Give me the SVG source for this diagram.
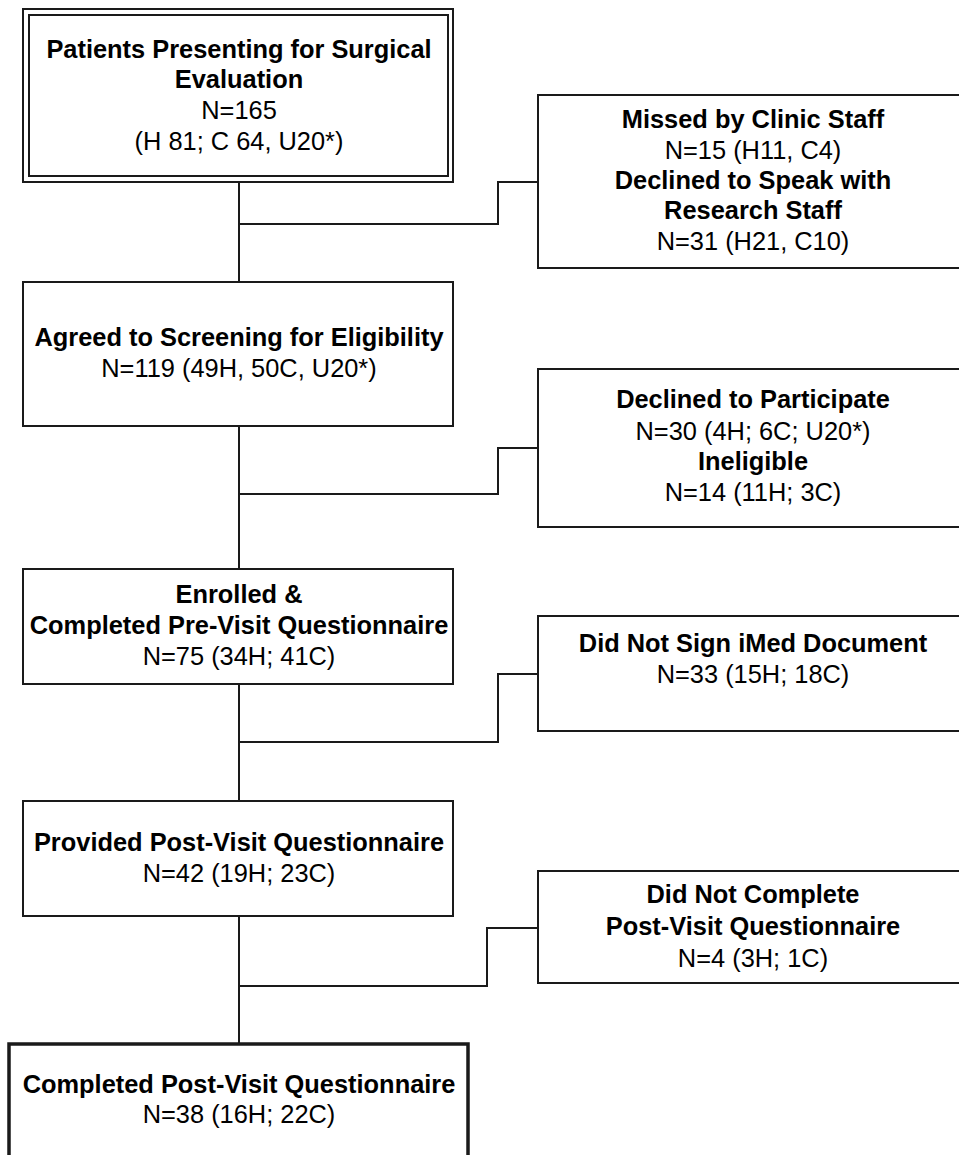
<svg xmlns="http://www.w3.org/2000/svg" width="959" height="1155" viewBox="0 0 959 1155">
<style>
.box{fill:#fff;stroke:#1a1a1a;stroke-width:2}
.thick{fill:#fff;stroke:#1a1a1a;stroke-width:3.5}
.con{fill:none;stroke:#1a1a1a;stroke-width:2}
text{font-family:"Liberation Sans",Arial,sans-serif;font-size:25.4px;fill:#000;text-anchor:middle}
.b{font-weight:bold}
</style>
<rect width="959" height="1155" fill="#fff"/>
<g id="connectors">
<path class="con" d="M239,182 V282 M239,224 H498 V182 H538"/>
<path class="con" d="M239,426 V569 M239,494 H498 V448 H538"/>
<path class="con" d="M239,684 V801 M239,742 H498 V674 H538"/>
<path class="con" d="M239,916 V1044 M239,986 H487 V928 H538"/>
</g>
<g id="n1">
<rect class="box" x="23" y="9" width="430" height="173"/>
<rect class="box" x="29" y="15" width="419" height="161"/>
<text x="239" y="58" class="b">Patients Presenting for Surgical</text>
<text x="239" y="88" class="b">Evaluation</text>
<text x="239" y="119">N=165</text>
<text x="239" y="150">(H 81; C 64, U20*)</text>
</g>
<g id="n2">
<rect class="box" x="538" y="95" width="440" height="173"/>
<text x="753" y="128" class="b">Missed by Clinic Staff</text>
<text x="753" y="159">N=15 (H11, C4)</text>
<text x="753" y="189" class="b">Declined to Speak with</text>
<text x="753" y="219" class="b">Research Staff</text>
<text x="753" y="250">N=31 (H21, C10)</text>
</g>
<g id="n3">
<rect class="box" x="23" y="282" width="430" height="144"/>
<text x="239" y="346" class="b">Agreed to Screening for Eligibility</text>
<text x="239" y="377">N=119 (49H, 50C, U20*)</text>
</g>
<g id="n4">
<rect class="box" x="538" y="369" width="440" height="158"/>
<text x="753" y="408" class="b">Declined to Participate</text>
<text x="753" y="440">N=30 (4H; 6C; U20*)</text>
<text x="753" y="470" class="b">Ineligible</text>
<text x="753" y="501">N=14 (11H; 3C)</text>
</g>
<g id="n5">
<rect class="box" x="23" y="569" width="430" height="115"/>
<text x="239" y="603" class="b">Enrolled &amp;</text>
<text x="239" y="634" class="b">Completed Pre-Visit Questionnaire</text>
<text x="239" y="665">N=75 (34H; 41C)</text>
</g>
<g id="n6">
<rect class="box" x="538" y="616" width="440" height="115"/>
<text x="753" y="652" class="b">Did Not Sign iMed Document</text>
<text x="753" y="683">N=33 (15H; 18C)</text>
</g>
<g id="n7">
<rect class="box" x="23" y="801" width="430" height="115"/>
<text x="239" y="851" class="b">Provided Post-Visit Questionnaire</text>
<text x="239" y="882">N=42 (19H; 23C)</text>
</g>
<g id="n8">
<rect class="box" x="538" y="871" width="440" height="112"/>
<text x="753" y="903" class="b">Did Not Complete</text>
<text x="753" y="935" class="b">Post-Visit Questionnaire</text>
<text x="753" y="967">N=4 (3H; 1C)</text>
</g>
<g id="n9">
<rect class="thick" x="9" y="1044" width="459" height="130"/>
<text x="239" y="1093" class="b">Completed Post-Visit Questionnaire</text>
<text x="239" y="1123">N=38 (16H; 22C)</text>
</g>
</svg>
